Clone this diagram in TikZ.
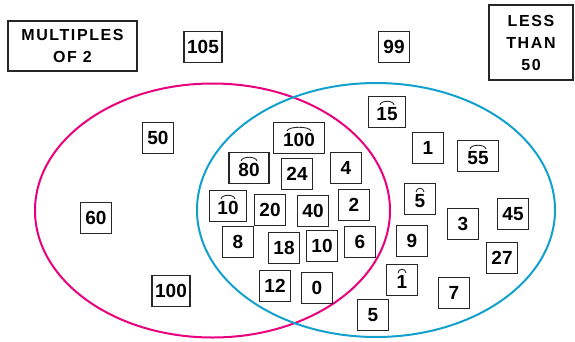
\documentclass[tikz,border=0pt]{standalone}
\usepackage{fontspec}
\setmainfont{Liberation Sans}
\newfontfamily\spacedfont[LetterSpace=10]{Liberation Sans}
\usetikzlibrary{positioning}

\definecolor{setpink}{RGB}{232,0,124}
\definecolor{setblue}{RGB}{18,160,204}

\begin{document}
\begin{tikzpicture}[x=1pt,y=-1pt]
  \tikzstyle{num}=[draw=black!85,line width=1.1pt,inner sep=2pt,minimum width=31pt,minimum height=31pt,font=\fontsize{19}{21}\selectfont\bfseries]
  \tikzstyle{title}=[draw=black!85,line width=1.1pt,align=center,font=\fontsize{16}{22}\spacedfont\bfseries]
  % small arc over the digits, half width given
  \tikzset{arced/.style={text height=17pt,path picture={
    \draw[line width=0.9pt,black!85] ([xshift=-#1,yshift=7pt]path picture bounding box.center)
      .. controls +(0.1*#1,5pt) and +(-0.1*#1,5pt) .. ([xshift=#1,yshift=7pt]path picture bounding box.center);}}}
  \useasboundingbox (0,0) rectangle (575,341);

  % the two sets
  \draw[setpink,line width=2pt] (212.5,210.5) ellipse [x radius=177.5,y radius=127];
  \draw[setblue,line width=2pt] (376,210) ellipse [x radius=179,y radius=127];

  \node[title,minimum width=129pt,minimum height=50pt] (mult) at (72.5,46) {MULTIPLES\\OF 2};
  \node[title,minimum width=84pt,minimum height=75pt] (less) at (531,42.5) {LESS\\THAN\\50};

  % outside both
  \node[num,minimum width=38pt] (n105) at (203,47) {105};
  \node[num] (n99) at (394,47) {99};

  % multiples of 2 only
  \node[num] (n50) at (158,138) {50};
  \node[num] (n60) at (96,218) {60};
  \node[num,minimum width=38pt] (n100) at (171,291) {100};

  % both sets
  \node[num,minimum width=51pt,arced=12pt] (a100) at (299,138) {100};
  \node[num,minimum width=40pt,arced=8pt] (a80) at (249,168) {80};
  \node[num] (n24) at (297,174) {24};
  \node[num] (n4) at (346,168) {4};
  \node[num,minimum width=37pt,arced=7pt] (a10) at (228,206) {10};
  \node[num] (n20) at (270,210) {20};
  \node[num] (n40) at (313,211) {40};
  \node[num] (n2) at (354,205) {2};
  \node[num] (n8) at (238,242) {8};
  \node[num] (n18) at (284,248) {18};
  \node[num] (n10) at (322,246) {10};
  \node[num] (n6) at (360,242) {6};
  \node[num] (n12) at (275,286) {12};
  \node[num] (n0) at (317,288) {0};

  % less than 50 only
  \node[num,minimum width=37pt,arced=7pt] (a15) at (387,112) {15};
  \node[num] (n1) at (428,148) {1};
  \node[num,minimum width=41pt,arced=8pt] (a55) at (478,156) {55};
  \node[num,arced=4pt] (a5) at (420,199) {5};
  \node[num] (n3) at (463,224) {3};
  \node[num] (n45) at (513,214) {45};
  \node[num] (n9) at (412,241) {9};
  \node[num] (n27) at (502,258) {27};
  \node[num,arced=4pt] (a1) at (402,280) {1};
  \node[num] (n7) at (454,293) {7};
  \node[num] (n5) at (373,315) {5};
\end{tikzpicture}
\end{document}
